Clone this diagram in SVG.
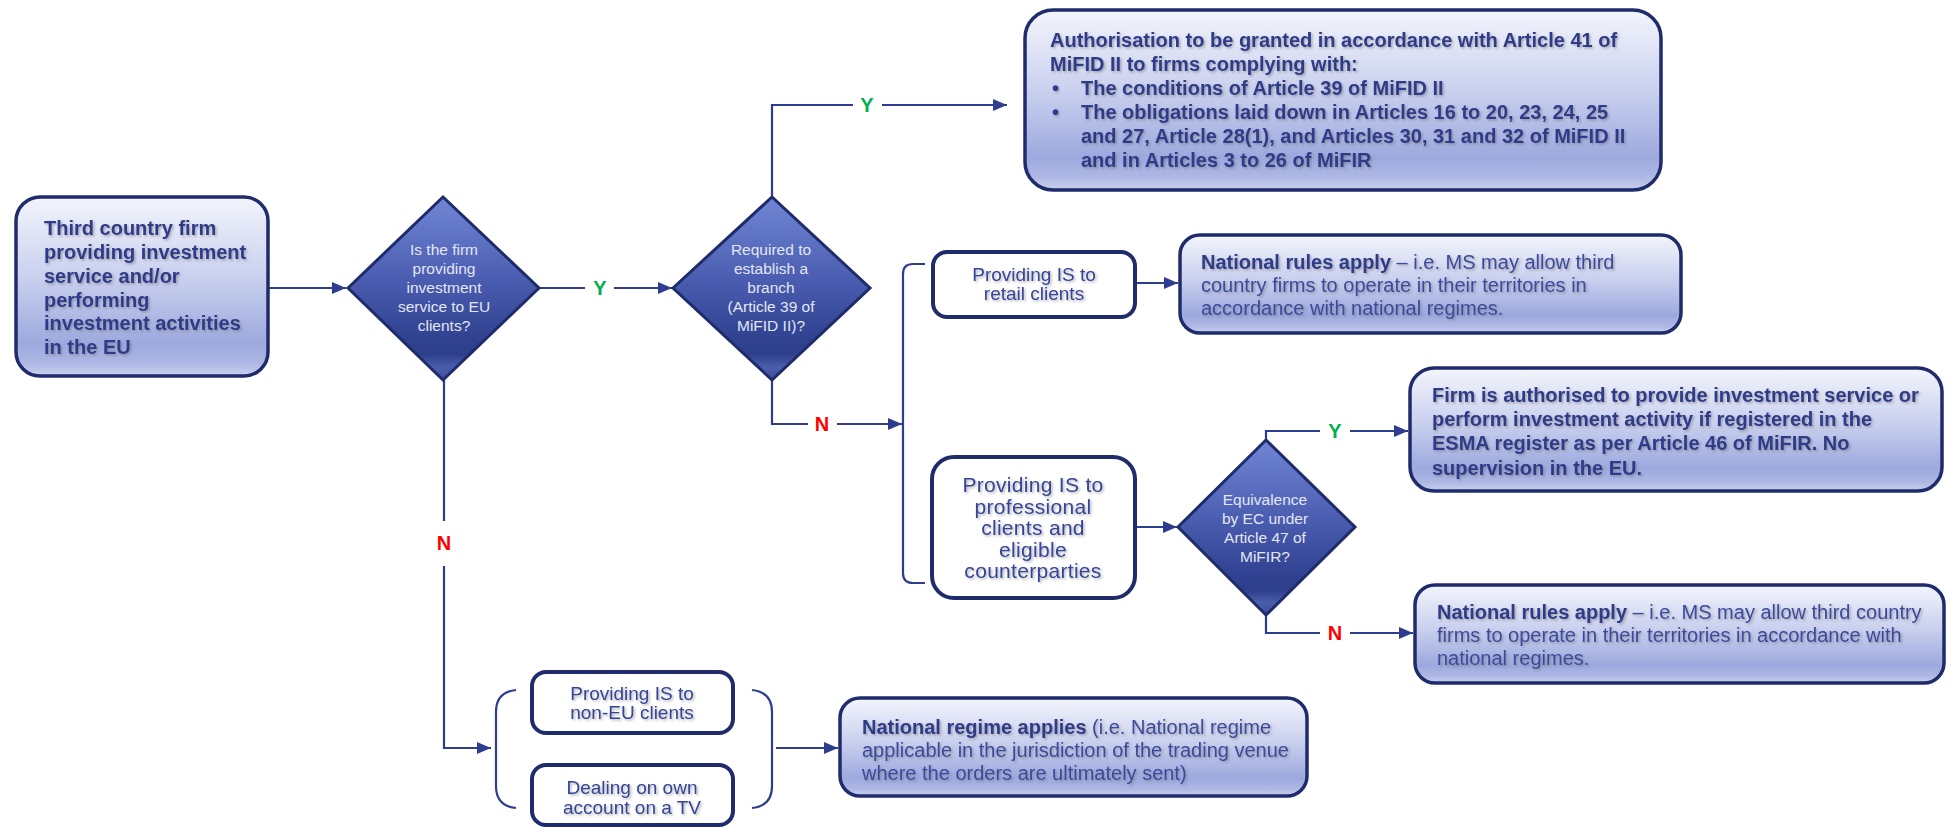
<svg xmlns="http://www.w3.org/2000/svg" width="1951" height="827" viewBox="0 0 1951 827">
<defs>
<linearGradient id="gLight" x1="0" y1="0" x2="0" y2="1">
<stop offset="0" stop-color="#F3F5FC"/>
<stop offset="0.45" stop-color="#C9D0EE"/>
<stop offset="0.82" stop-color="#9DA9DE"/>
<stop offset="0.93" stop-color="#AEB8E4"/>
<stop offset="1" stop-color="#C9D0EE"/>
</linearGradient>
<linearGradient id="gDia" x1="0" y1="0" x2="0" y2="1">
<stop offset="0" stop-color="#7286D6"/>
<stop offset="0.45" stop-color="#4A5DB0"/>
<stop offset="0.78" stop-color="#2F418F"/>
<stop offset="0.86" stop-color="#2E408C"/>
<stop offset="0.93" stop-color="#4B5EAB"/>
<stop offset="1" stop-color="#3A4C9A"/>
</linearGradient>
<filter id="ts" x="-5%" y="-30%" width="110%" height="160%">
<feDropShadow dx="1.5" dy="1.5" stdDeviation="1" flood-color="#666666" flood-opacity="0.5"/>
</filter>
<marker id="arr" viewBox="0 0 14 12" refX="14" refY="6" markerWidth="14" markerHeight="12" markerUnits="userSpaceOnUse" orient="auto">
<path d="M0,0 L14,6 L0,12 Z" fill="#2E3D8F"/>
</marker>
</defs>
<style>
.light{fill:url(#gLight);stroke:#1F2B6B;stroke-width:3.5}
.white{fill:#FFFFFF;stroke:#1F2B6B;stroke-width:4}
.dia{fill:url(#gDia);stroke:#1F2B6B;stroke-width:3;stroke-linejoin:miter}
.conn{fill:none;stroke:#2E3D8F;stroke-width:2.2}
.b{font-family:"Liberation Sans",Arial,sans-serif;font-weight:bold;font-size:20px;fill:#2E3B8B;filter:url(#ts)}
.r{font-family:"Liberation Sans",Arial,sans-serif;font-size:20px;fill:#3A4A9E;filter:url(#ts)}
.rb{font-weight:bold;fill:#2E3B8B}
.dt{font-family:"Liberation Sans",Arial,sans-serif;font-size:15.5px;fill:#E2E6F5;text-anchor:middle}
.wt{font-family:"Liberation Sans",Arial,sans-serif;fill:#34449A;text-anchor:middle;filter:url(#ts)}
.Y{font-family:"Liberation Sans",Arial,sans-serif;font-weight:bold;font-size:20px;fill:#00B050;text-anchor:middle}
.N{font-family:"Liberation Sans",Arial,sans-serif;font-weight:bold;font-size:20px;fill:#FF0000;text-anchor:middle}
</style>

<g id="connectors">
<path class="conn" d="M268,288 H346" marker-end="url(#arr)"/>
<path class="conn" d="M539,288 H585 M614,288 H672" marker-end="url(#arr)"/>
<path class="conn" d="M772,197 V105 H853 M882,105 H1007" marker-end="url(#arr)"/>
<path class="conn" d="M772,380 V424 H808 M837,424 H902" marker-end="url(#arr)"/>
<path class="conn" d="M925,264 H913 Q903,264 903,274 V573 Q903,583 913,583 H925"/>
<path class="conn" d="M1135,283 H1178" marker-end="url(#arr)"/>
<path class="conn" d="M1135,527 H1177" marker-end="url(#arr)"/>
<path class="conn" d="M1266,440 V431 H1320 M1350,431 H1408" marker-end="url(#arr)"/>
<path class="conn" d="M1266,615 V633 H1320 M1350,633 H1413" marker-end="url(#arr)"/>
<path class="conn" d="M444,380 V521 M444,566 V748 H491" marker-end="url(#arr)"/>
<path class="conn" d="M516,690 Q496,692 496,712 V786 Q496,806 516,808"/>
<path class="conn" d="M752,690 Q772,692 772,712 V786 Q772,806 752,808"/>
<path class="conn" d="M776,748 H838" marker-end="url(#arr)"/>
<text class="Y" x="600" y="295">Y</text>
<text class="Y" x="867" y="112">Y</text>
<text class="N" x="822" y="431">N</text>
<text class="N" x="444" y="550">N</text>
<text class="Y" x="1335" y="438">Y</text>
<text class="N" x="1335" y="640">N</text>
</g>

<g id="start">
<rect class="light" x="16" y="197" width="252" height="179" rx="24"/>
<text class="b" x="44" y="235">Third country firm</text>
<text class="b" x="44" y="259">providing investment</text>
<text class="b" x="44" y="283">service and/or</text>
<text class="b" x="44" y="307">performing</text>
<text class="b" x="44" y="330">investment activities</text>
<text class="b" x="44" y="354">in the EU</text>
</g>

<g id="q-eu-clients">
<polygon class="dia" points="348,288 443,197 539,288 443,380"/>
<text class="dt" x="444" y="255">Is the firm</text>
<text class="dt" x="444" y="274">providing</text>
<text class="dt" x="444" y="293">investment</text>
<text class="dt" x="444" y="312">service to EU</text>
<text class="dt" x="444" y="331">clients?</text>
</g>

<g id="q-branch">
<polygon class="dia" points="673,288 772,197 870,288 772,380"/>
<text class="dt" x="771" y="255">Required to</text>
<text class="dt" x="771" y="274">establish a</text>
<text class="dt" x="771" y="293">branch</text>
<text class="dt" x="771" y="312">(Article 39 of</text>
<text class="dt" x="771" y="331">MiFID II)?</text>
</g>

<g id="authorisation">
<rect class="light" x="1025" y="10" width="636" height="180" rx="28"/>
<text class="b" x="1050" y="47">Authorisation to be granted in accordance with Article 41 of</text>
<text class="b" x="1050" y="71">MiFID II to firms complying with:</text>
<text class="b" x="1052" y="95">•</text>
<text class="b" x="1081" y="95">The conditions of Article 39 of MiFID II</text>
<text class="b" x="1052" y="119">•</text>
<text class="b" x="1081" y="119">The obligations laid down in Articles 16 to 20, 23, 24, 25</text>
<text class="b" x="1081" y="143">and 27, Article 28(1), and Articles 30, 31 and 32 of MiFID II</text>
<text class="b" x="1081" y="167">and in Articles 3 to 26 of MiFIR</text>
</g>

<g id="retail">
<rect class="white" x="933" y="252" width="202" height="65" rx="14"/>
<text class="wt" x="1034" y="281" font-size="19">Providing IS to</text>
<text class="wt" x="1034" y="300" font-size="19">retail clients</text>
</g>

<g id="national-rules-retail">
<rect class="light" x="1180" y="235" width="501" height="98" rx="20"/>
<text class="r" x="1201" y="269"><tspan class="rb">National rules apply</tspan> – i.e. MS may allow third</text>
<text class="r" x="1201" y="292">country firms to operate in their territories in</text>
<text class="r" x="1201" y="315">accordance with national regimes.</text>
</g>

<g id="professional">
<rect class="white" x="932" y="457" width="203" height="141" rx="22"/>
<text class="wt" x="1033" y="492" font-size="21" letter-spacing="0.3">Providing IS to</text>
<text class="wt" x="1033" y="513.5" font-size="21" letter-spacing="0.3">professional</text>
<text class="wt" x="1033" y="535" font-size="21" letter-spacing="0.3">clients and</text>
<text class="wt" x="1033" y="556.5" font-size="21" letter-spacing="0.3">eligible</text>
<text class="wt" x="1033" y="578" font-size="21" letter-spacing="0.3">counterparties</text>
</g>

<g id="q-equivalence">
<polygon class="dia" points="1178,527 1266,440 1355,527 1266,615"/>
<text class="dt" x="1265" y="505">Equivalence</text>
<text class="dt" x="1265" y="524">by EC under</text>
<text class="dt" x="1265" y="543">Article 47 of</text>
<text class="dt" x="1265" y="562">MiFIR?</text>
</g>

<g id="registered">
<rect class="light" x="1410" y="368" width="532" height="123" rx="24"/>
<text class="b" x="1432" y="402">Firm is authorised to provide investment service or</text>
<text class="b" x="1432" y="426">perform investment activity if registered in the</text>
<text class="b" x="1432" y="450">ESMA register as per Article 46 of MiFIR. No</text>
<text class="b" x="1432" y="475">supervision in the EU.</text>
</g>

<g id="national-rules-professional">
<rect class="light" x="1415" y="585" width="529" height="98" rx="20"/>
<text class="r" x="1437" y="619"><tspan class="rb">National rules apply</tspan> – i.e. MS may allow third country</text>
<text class="r" x="1437" y="642">firms to operate in their territories in accordance with</text>
<text class="r" x="1437" y="665">national regimes.</text>
</g>

<g id="non-eu">
<rect class="white" x="532" y="672" width="201" height="61" rx="14"/>
<text class="wt" x="632" y="700" font-size="19">Providing IS to</text>
<text class="wt" x="632" y="719" font-size="19">non-EU clients</text>
</g>

<g id="dealing">
<rect class="white" x="532" y="765" width="201" height="60" rx="14"/>
<text class="wt" x="632" y="794" font-size="19">Dealing on own</text>
<text class="wt" x="632" y="814" font-size="19">account on a TV</text>
</g>

<g id="national-regime">
<rect class="light" x="840" y="698" width="467" height="98" rx="20"/>
<text class="r" x="862" y="734"><tspan class="rb">National regime applies</tspan> (i.e. National regime</text>
<text class="r" x="862" y="757">applicable in the jurisdiction of the trading venue</text>
<text class="r" x="862" y="780">where the orders are ultimately sent)</text>
</g>
</svg>
